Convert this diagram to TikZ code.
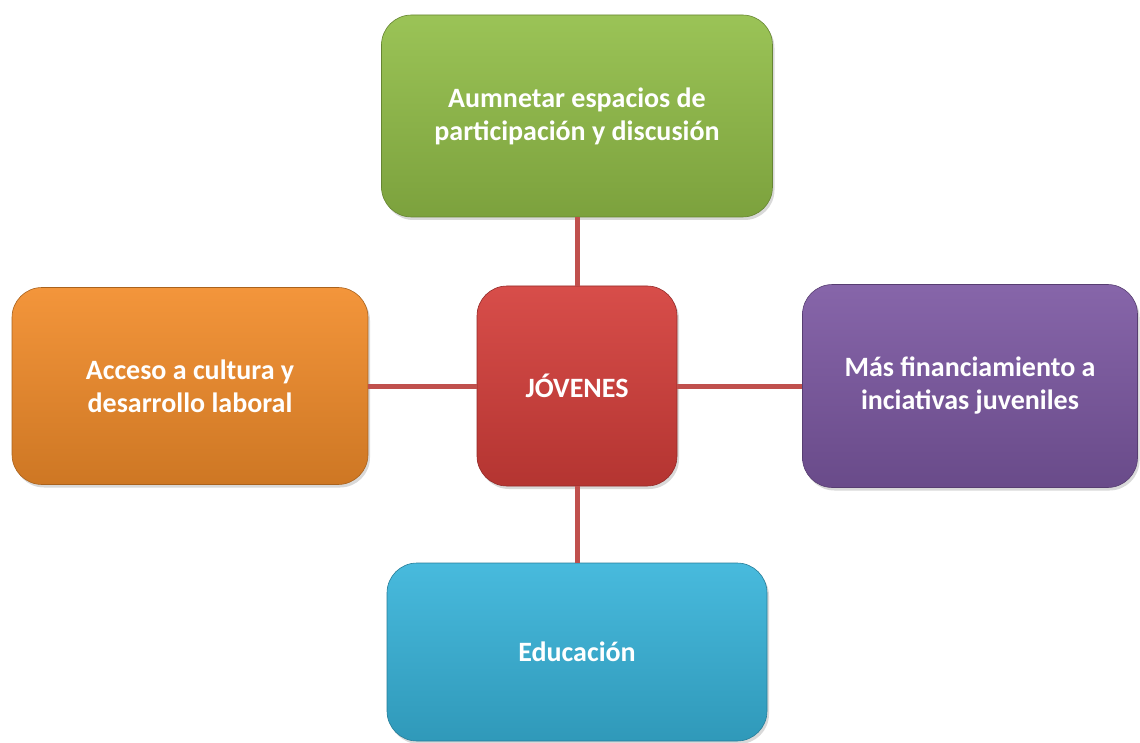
\documentclass[tikz,border=0pt]{standalone}
\usepackage{fontspec}
\setmainfont{Carlito}
\usepackage{tikz}
\usetikzlibrary{shadows}
\definecolor{boxgreen}{RGB}{146,190,72}
\definecolor{boxorange}{RGB}{242,140,42}
\definecolor{boxred}{RGB}{212,62,58}
\definecolor{boxpurple}{RGB}{124,88,162}
\definecolor{boxblue}{RGB}{56,180,218}
\definecolor{linkred}{RGB}{192,80,77}

\tikzset{
  topic/.style={rounded corners=30pt, draw=#1!70!black, line width=0.6pt,
    top color=#1!92!white, bottom color=#1!85!black,
    drop shadow={opacity=0.3, shadow xshift=2pt, shadow yshift=-3pt},
    text=white, font=\bfseries\fontsize{28}{33}\selectfont, align=center,
    inner sep=0pt},
  link/.style={linkred, line width=5pt}
}

\begin{document}
\begin{tikzpicture}[x=1pt,y=-1pt]
    \useasboundingbox (0,0) rectangle (1140,743);

    % Center
    \node[topic=boxred, minimum width=200pt, minimum height=200pt] (jov) at (577,386) {JÓVENES};

    % Topics around
    \node[topic=boxgreen, minimum width=391pt, minimum height=202pt] (esp) at (577,116)
        {Aumnetar espacios de\\participación y discusión};
    \node[topic=boxorange, minimum width=356pt, minimum height=197pt] (cul) at (190,386)
        {Acceso a cultura y\\desarrollo laboral};
    \node[topic=boxpurple, minimum width=335pt, minimum height=203pt] (fin) at (970,386)
        {Más financiamiento a\\inciativas juveniles};
    \node[topic=boxblue, minimum width=380pt, minimum height=178pt] (edu) at (577,652)
        {Educación};

    % Links
    \draw[link] (jov) -- (esp);
    \draw[link] (jov) -- (cul);
    \draw[link] (jov) -- (fin);
    \draw[link] (jov) -- (edu);
\end{tikzpicture}
\end{document}
